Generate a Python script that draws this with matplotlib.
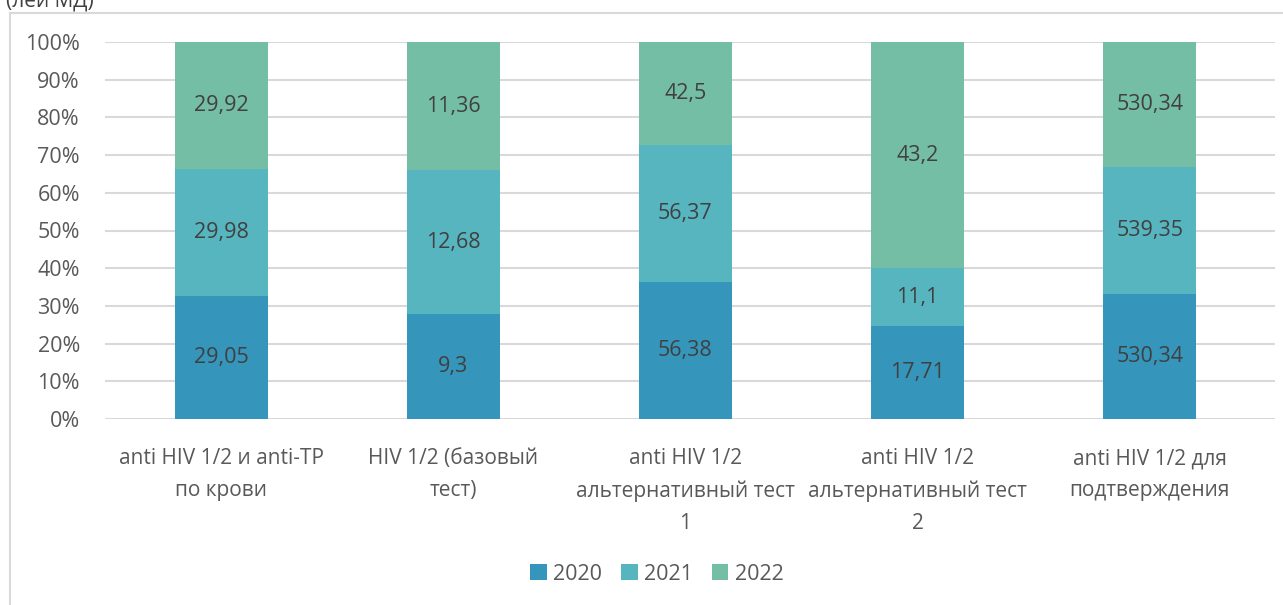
import numpy as np
import matplotlib.pyplot as plt
from matplotlib.patches import Rectangle

plt.rcParams["font.family"] = ["Open Sans", "DejaVu Sans"]

categories = [
    "anti HIV 1/2 и anti-TP\nпо крови",
    "HIV 1/2 (базовый\nтест)",
    "anti HIV 1/2\nальтернативный тест\n1",
    "anti HIV 1/2\nальтернативный тест\n2",
    "anti HIV 1/2 для\nподтверждения",
]
years = ["2020", "2021", "2022"]
v2020 = [29.05, 9.3, 56.38, 17.71, 530.34]
v2021 = [29.98, 12.68, 56.37, 11.1, 539.35]
v2022 = [29.92, 11.36, 42.5, 43.2, 530.34]
colors = ["#3595bb", "#57b5bf", "#75bea6"]

labels_txt = [
    ["29,05", "9,3", "56,38", "17,71", "530,34"],
    ["29,98", "12,68", "56,37", "11,1", "539,35"],
    ["29,92", "11,36", "42,5", "43,2", "530,34"],
]

data = np.array([v2020, v2021, v2022])
share = data / data.sum(axis=0)

fig = plt.figure(figsize=(12.83, 6.05), dpi=100)
ax = fig.add_axes([105 / 1283, 1 - 419 / 605, 1170 / 1283, 377 / 605])

# chart border (partly cut off like in the original)
fig.patches.append(Rectangle((10 / 1283, -0.05), 1.2, 1 - 13 / 605 + 0.05,
                             transform=fig.transFigure, fill=False,
                             edgecolor="#d9d9d9", linewidth=1.5))
fig.text(6 / 1283, 1 - 12 / 605, "(лей МД)", fontsize=15, color="#404040",
         ha="left", va="bottom")

x = np.arange(len(categories))
bottom = np.zeros(len(categories))
for i, year in enumerate(years):
    ax.bar(x, share[i], 0.4, bottom=bottom, color=colors[i], label=year,
           zorder=3)
    for j in range(len(categories)):
        ax.text(x[j], bottom[j] + share[i][j] / 2, labels_txt[i][j],
                ha="center", va="center", fontsize=15.5, color="#404040",
                zorder=4)
    bottom += share[i]

ax.set_xlim(-0.5, 4.54)
ax.set_ylim(0, 1)
ax.set_yticks(np.arange(0, 1.01, 0.1))
ax.set_yticklabels([f"{int(round(t * 100))}%" for t in np.arange(0, 1.01, 0.1)])
ax.set_xticks(x)
ax.set_xticklabels(categories, linespacing=1.7)
ax.grid(axis="y", color="#d9d9d9", linewidth=1.5, zorder=0)
for s in ax.spines.values():
    s.set_visible(False)
ax.tick_params(length=0, labelsize=15, labelcolor="#595959")
ax.tick_params(axis="y", pad=18, labelsize=15.5)
ax.tick_params(axis="x", pad=21)

ax.legend(loc="center", bbox_to_anchor=(657 / 1283, 1 - 574 / 605),
          bbox_transform=fig.transFigure, ncol=3, frameon=False,
          fontsize=15.5, labelcolor="#595959", handlelength=0.75,
          handleheight=0.75, handletextpad=0.3, columnspacing=0.9)

fig.savefig("out.png", dpi=100)
